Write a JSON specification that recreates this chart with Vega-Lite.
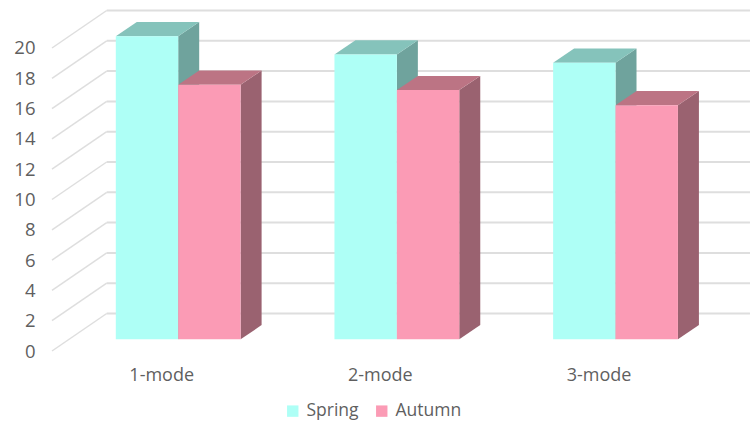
{
  "$schema": "https://vega.github.io/schema/vega-lite/v6.json",
  "autosize": {"type": "none"},
  "padding": {"left": 45, "top": 0, "right": 0, "bottom": 70},
  "width": 705,
  "height": 351,
  "background": "white",
  "datasets": {
    "levels": [{"level": 0}, {"level": 2}, {"level": 4}, {"level": 6}, {"level": 8}, {"level": 10}, {"level": 12}, {"level": 14}, {"level": 16}, {"level": 18}, {"level": 20}],
    "bars": [
      {"mode": 1, "season": "Spring", "value": 20.0},
      {"mode": 1, "season": "Autumn", "value": 16.8},
      {"mode": 2, "season": "Spring", "value": 18.8},
      {"mode": 2, "season": "Autumn", "value": 16.45},
      {"mode": 3, "season": "Spring", "value": 18.25},
      {"mode": 3, "season": "Autumn", "value": 15.45}
    ]
  },
  "layer": [
    {
      "description": "Gridlines along the back wall of the 3D box",
      "data": {"name": "levels"},
      "transform": [
        {"calculate": "datum.level + 2.475", "as": "back"},
        {"calculate": "0.673", "as": "wallX"},
        {"calculate": "3.615", "as": "endX"}
      ],
      "mark": {"type": "rule", "color": "#DEDEDE", "strokeWidth": 2},
      "encoding": {
        "x": {
          "field": "wallX", "type": "quantitative", "title": null,
          "scale": {"domain": [0.3908, 3.615], "nice": false, "zero": false},
          "axis": {
            "values": [1, 2, 3], "labelExpr": "datum.value + '-mode'", "title": null,
            "domain": false, "ticks": false, "grid": false, "labelOffset": -17,
            "labelPadding": 15, "labelFont": "Open Sans", "labelFontSize": 18,
            "labelColor": "#5F5F5F", "labelFlush": false
          }
        },
        "x2": {"field": "endX"},
        "y": {
          "field": "back", "type": "quantitative", "title": null,
          "scale": {"domain": [0, 23.168], "nice": false, "zero": false},
          "axis": {
            "values": [0, 2, 4, 6, 8, 10, 12, 14, 16, 18, 20], "tickCount": 11, "title": null,
            "domain": false, "ticks": false, "grid": false, "labelPadding": 10,
            "labelFont": "Open Sans", "labelFontSize": 18.5, "labelColor": "#5F5F5F",
            "labelFlush": false
          }
        }
      }
    },
    {
      "description": "Slanted gridlines across the left wall",
      "data": {"name": "levels"},
      "transform": [
        {"calculate": "datum.level + 2.475", "as": "back"},
        {"calculate": "0.4228", "as": "frontX"},
        {"calculate": "0.673", "as": "wallX"}
      ],
      "mark": {"type": "rule", "color": "#DEDEDE", "strokeWidth": 1.5},
      "encoding": {
        "x": {"field": "frontX", "type": "quantitative", "title": null},
        "x2": {"field": "wallX"},
        "y": {"field": "level", "type": "quantitative", "title": null},
        "y2": {"field": "back"}
      }
    },
    {
      "description": "Right-hand side faces of the columns",
      "data": {"name": "bars"},
      "transform": [
        {"calculate": "[0, 1]", "as": "t"},
        {"flatten": ["t"]},
        {"calculate": "datum.mode + (datum.season === 'Spring' ? 0 : 0.2854) + datum.t * 0.096", "as": "sideX"},
        {"calculate": "0.772 + datum.t * 0.937", "as": "sideLow"},
        {"calculate": "datum.sideLow + datum.value", "as": "sideHigh"}
      ],
      "mark": {"type": "area", "orient": "vertical", "interpolate": "linear"},
      "encoding": {
        "x": {"field": "sideX", "type": "quantitative", "title": null},
        "y": {"field": "sideHigh", "type": "quantitative", "title": null},
        "y2": {"field": "sideLow"},
        "detail": [{"field": "mode"}, {"field": "season"}],
        "color": {"condition": {"test": "datum.season === 'Spring'", "value": "#6FA39D"}, "value": "#9A6270"}
      }
    },
    {
      "description": "Top faces of the columns",
      "data": {"name": "bars"},
      "transform": [
        {"calculate": "[0, 1]", "as": "t"},
        {"flatten": ["t"]},
        {"calculate": "datum.mode + (datum.season === 'Spring' ? -0.2854 : 0) + datum.t * 0.096", "as": "topLeft"},
        {"calculate": "datum.topLeft + 0.2854", "as": "topRight"},
        {"calculate": "0.772 + datum.value + datum.t * 0.937", "as": "topY"}
      ],
      "mark": {"type": "area", "orient": "horizontal", "interpolate": "linear"},
      "encoding": {
        "x": {"field": "topLeft", "type": "quantitative", "title": null},
        "x2": {"field": "topRight"},
        "y": {"field": "topY", "type": "quantitative", "title": null},
        "detail": [{"field": "mode"}, {"field": "season"}],
        "color": {"condition": {"test": "datum.season === 'Spring'", "value": "#85C3BB"}, "value": "#BC7484"}
      }
    },
    {
      "description": "Front faces of the columns, which also carry the legend",
      "data": {"name": "bars"},
      "transform": [
        {"calculate": "datum.mode + (datum.season === 'Spring' ? -0.2854 : 0)", "as": "frontLeft"},
        {"calculate": "datum.frontLeft + 0.2854", "as": "frontRight"},
        {"calculate": "0.772", "as": "base"},
        {"calculate": "0.772 + datum.value", "as": "frontTop"}
      ],
      "mark": {"type": "rect"},
      "encoding": {
        "x": {"field": "frontLeft", "type": "quantitative", "title": null},
        "x2": {"field": "frontRight"},
        "y": {"field": "base", "type": "quantitative", "title": null},
        "y2": {"field": "frontTop"},
        "color": {
          "field": "season", "type": "nominal",
          "scale": {"domain": ["Spring", "Autumn"], "range": ["#AEFFF6", "#FB9BB5"]},
          "legend": {
            "orient": "none", "legendX": 239, "legendY": 402, "direction": "horizontal", "columns": 2,
            "title": null, "symbolType": "square", "symbolSize": 130, "symbolStrokeWidth": 0,
            "labelFont": "Open Sans", "labelFontSize": 17.5, "labelColor": "#5F5F5F",
            "labelOffset": 5, "columnPadding": 14, "padding": 0
          }
        }
      }
    }
  ],
  "config": {"view": {"stroke": null}, "axis": {"labelOverlap": false}}
}
